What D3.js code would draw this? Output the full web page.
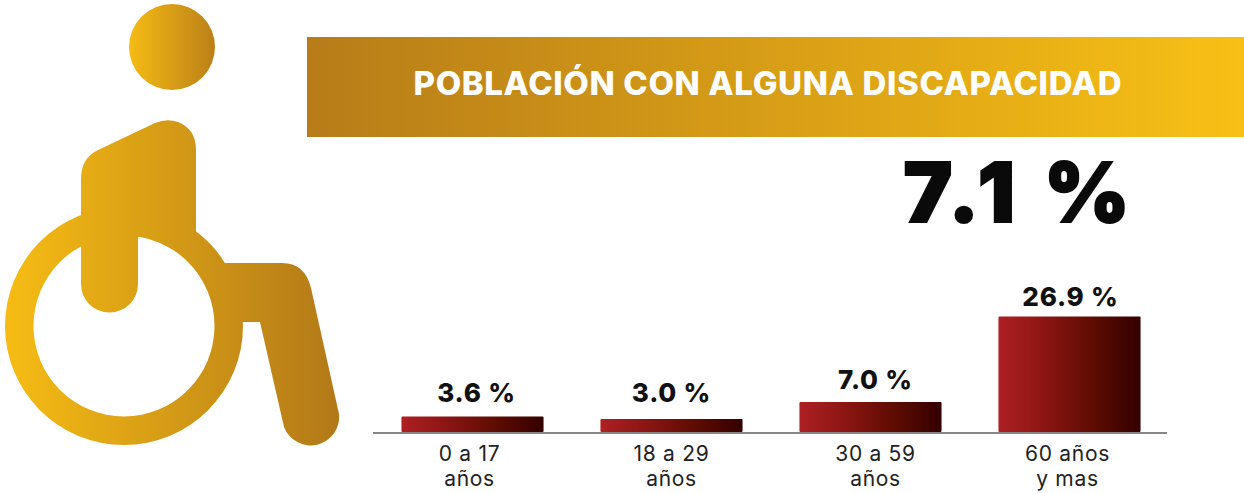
<!DOCTYPE html>
<html lang="es">
<head>
<meta charset="utf-8">
<title>Población con alguna discapacidad</title>
<script src="https://cdn.jsdelivr.net/npm/d3@7"></script>
<style>
  html, body { margin: 0; padding: 0; background: #fff; }
  svg { display: block; }
  text { font-family: Inter, "Open Sans", "DejaVu Sans", sans-serif; }
</style>
</head>
<body>
<div id="chart"></div>
<script>
// Data
const categories = ["0 a 17|años", "18 a 29|años", "30 a 59|años", "60 años|y mas"];
const values = [3.6, 3.0, 7.0, 26.9];
const valueLabels = ["3.6 %", "3.0 %", "7.0 %", "26.9 %"];
const titleText = "POBLACIÓN CON ALGUNA DISCAPACIDAD";
const totalText = "7.1 %";

// Small per-label nudges, the labels in the picture are not quite centred
const labelGaps = [15, 17, 13, 11];
const labelShifts = [4, 0, 5, 1];
const tickShifts = [-3, 0, 5, -2];

// Layout
const width = 1244, height = 493;
const baseline = 432;

const svg = d3.select("#chart")
  .append("svg")
  .attr("width", width)
  .attr("height", height);

// Gradients
const defs = svg.append("defs");

function addGradient(id, units, x1, x2, stops) {
  const g = defs.append("linearGradient")
    .attr("id", id)
    .attr("gradientUnits", units)
    .attr("x1", x1).attr("x2", x2)
    .attr("y1", 0).attr("y2", 0);
  stops.forEach((s, i) => {
    g.append("stop")
      .attr("offset", i / (stops.length - 1))
      .attr("stop-color", s);
  });
}

addGradient("iconGold", "userSpaceOnUse", 5, 340, ["#f6bc14", "#b27818"]);
addGradient("headGold", "objectBoundingBox", 0, 1, ["#f5bb14", "#bb8018"]);
addGradient("bannerGold", "objectBoundingBox", 0, 1, ["#b77c18", "#f8c015"]);
addGradient("barRed", "objectBoundingBox", 0, 1, ["#ae2023", "#8a1512", "#5e0c02", "#330000"]);

// Icon
const icon = svg.append("g").attr("fill", "url(#iconGold)");

icon.append("circle")
  .attr("cx", 172).attr("cy", 47).attr("r", 43)
  .attr("fill", "url(#headGold)");

// wheel, drawn in page coordinates so the shared gradient lines up
const wheel = d3.path();
wheel.arc(124, 326, 119, 0, 2 * Math.PI);
wheel.closePath();
wheel.moveTo(124 + 90.5, 326);
wheel.arc(124, 326, 90.5, 0, 2 * Math.PI);
wheel.closePath();

icon.append("path")
  .attr("fill-rule", "evenodd")
  .attr("d", wheel.toString());

// body
icon.append("path")
  .attr("d", "M81 179 Q81 158 98 150 L155 123 Q167 118 178 122 Q196 129 196 150 L196 232 L138 237 L138 284 A28.5 28.5 0 0 1 81 284 Z");

// leg
icon.append("path")
  .attr("d", "M222 263 L282 263 Q305 263 311 288 L339 414 A28.5 28.5 0 0 1 284 427 L260 322 L240 322 Z");

// Banner
svg.append("rect")
  .attr("x", 307).attr("y", 37)
  .attr("width", width - 307).attr("height", 100)
  .attr("fill", "url(#bannerGold)");

svg.append("text")
  .attr("x", 767.5).attr("y", 95)
  .attr("text-anchor", "middle")
  .attr("fill", "#fff")
  .attr("font-size", 33)
  .attr("font-weight", 800)
  .attr("textLength", 708)
  .attr("lengthAdjust", "spacing")
  .text(titleText);

svg.append("text")
  .attr("x", 1016.5).attr("y", 222)
  .attr("text-anchor", "middle")
  .attr("fill", "#0a0a0a")
  .attr("stroke", "#0a0a0a")
  .attr("stroke-width", 2)
  .attr("font-size", 82)
  .attr("font-weight", 900)
  .attr("textLength", 226)
  .attr("lengthAdjust", "spacing")
  .text(totalText);

// Scales
const x = d3.scaleBand()
  .domain(categories)
  .range([373, 1169])
  .paddingInner(0.286)
  .paddingOuter(0.143);

const y = d3.scaleLinear()
  .domain([0, d3.max(values)])
  .range([baseline, 316.5]);

// Bars
svg.append("g")
  .selectAll("rect")
  .data(values)
  .join("rect")
  .attr("x", (d, i) => x(categories[i]))
  .attr("y", d => y(d))
  .attr("width", x.bandwidth())
  .attr("height", d => baseline - y(d))
  .attr("rx", 1)
  .attr("fill", "url(#barRed)");

// Axis
const axis = svg.append("g")
  .attr("transform", `translate(0,${baseline + 1})`)
  .call(d3.axisBottom(x).tickSize(0).tickPadding(0).tickFormat(""));

axis.select(".domain")
  .attr("d", "M373,0H1167")
  .attr("stroke", "#858585")
  .attr("stroke-width", 2);

axis.selectAll(".tick text").remove();

axis.selectAll(".tick")
  .data(categories)
  .append("text")
  .attr("text-anchor", "middle")
  .attr("fill", "#222")
  .attr("font-size", 21)
  .attr("letter-spacing", 0.7)
  .attr("font-weight", 400)
  .each(function (d, i) {
    const lines = d.split("|");
    d3.select(this).selectAll("tspan")
      .data(lines)
      .join("tspan")
      .attr("x", tickShifts[i])
      .attr("y", (l, j) => 28 + j * 25)
      .text(l => l);
  });

// Value labels
svg.append("g")
  .selectAll("text")
  .data(values)
  .join("text")
  .attr("x", (d, i) => x(categories[i]) + x.bandwidth() / 2 + labelShifts[i])
  .attr("y", (d, i) => y(d) - labelGaps[i])
  .attr("text-anchor", "middle")
  .attr("fill", "#111")
  .attr("font-size", 26)
  .attr("font-weight", 800)
  .attr("letter-spacing", 0.8)
  .text((d, i) => valueLabels[i]);
</script>
</body>
</html>
